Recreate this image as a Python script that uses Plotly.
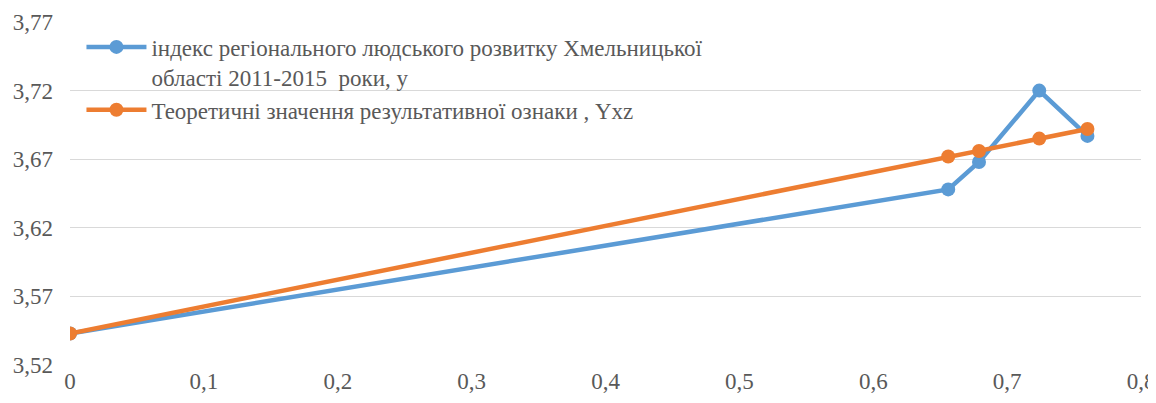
import plotly.graph_objects as go

x_vals = [0, 0.656, 0.679, 0.724, 0.760]
y_actual = [3.543, 3.648, 3.668, 3.720, 3.687]
y_theor = [3.543, 3.672, 3.676, 3.685, 3.692]

name_actual = "індекс регіонального людського розвитку Хмельницької<br>області 2011-2015  роки, y"
name_theor = "Теоретичні значення результативної ознаки , Yxz"

y_ticks = [3.52, 3.57, 3.62, 3.67, 3.72, 3.77]
y_labels = ["3,52", "3,57", "3,62", "3,67", "3,72", "3,77"]
x_ticks = [0, 0.1, 0.2, 0.3, 0.4, 0.5, 0.6, 0.7, 0.8]
x_labels = ["0", "0,1", "0,2", "0,3", "0,4", "0,5", "0,6", "0,7", "0,8"]

fig = go.Figure()
fig.add_trace(go.Scatter(x=x_vals, y=y_actual, mode="lines+markers", name=name_actual,
                         line=dict(color="#5B9BD5", width=4.5),
                         marker=dict(color="#5B9BD5", size=14)))
fig.add_trace(go.Scatter(x=x_vals, y=y_theor, mode="lines+markers", name=name_theor,
                         line=dict(color="#ED7D31", width=4.5),
                         marker=dict(color="#ED7D31", size=14)))

font_family = "Liberation Serif, Times New Roman, serif"
fig.update_layout(
    width=1156, height=395,
    margin=dict(l=62, r=23, t=14, b=38),
    paper_bgcolor="white", plot_bgcolor="white",
    font=dict(family=font_family, color="#595959", size=22),
    showlegend=True,
    legend=dict(x=0.0107, y=0.99, xanchor="left", yanchor="top",
                bgcolor="rgba(0,0,0,0)", font=dict(size=23, color="#595959"),
                itemwidth=60, tracegroupgap=0, valign="top"),
    xaxis=dict(range=[0, 0.8], tickvals=x_ticks, ticktext=x_labels,
               showgrid=False, zeroline=False, showline=False, automargin=False,
               ticklabeloverflow="allow",
               tickfont=dict(size=23, color="#595959")),
    yaxis=dict(range=[3.52, 3.77], tickvals=y_ticks, ticktext=y_labels,
               showgrid=True, gridcolor="#D9D9D9", gridwidth=1, automargin=False,
               zeroline=False, showline=False, ticklabelstandoff=16,
               tickfont=dict(size=23, color="#595959")),
)
fig.write_html("out.html")
